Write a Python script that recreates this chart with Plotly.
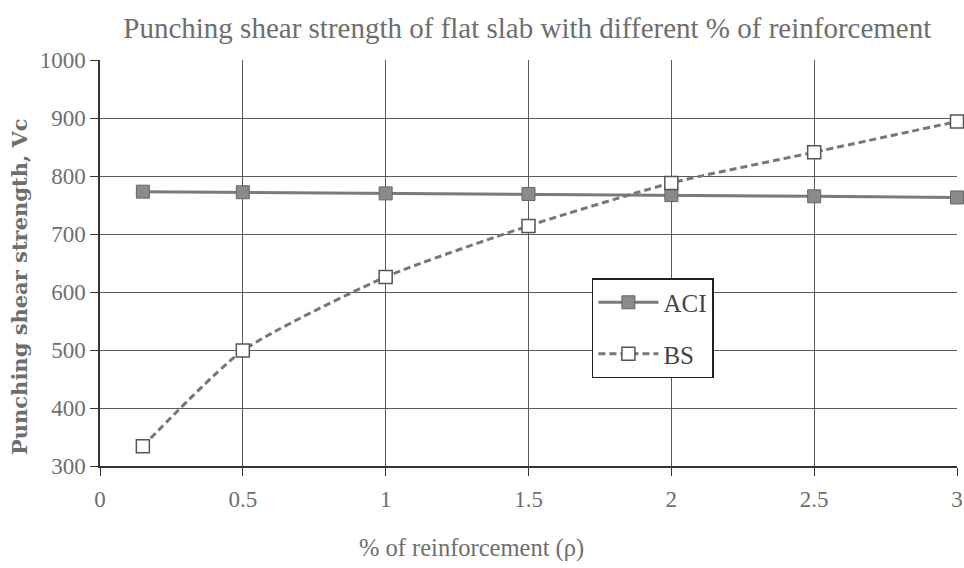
import plotly.graph_objects as go

x_vals = [0.15, 0.5, 1, 1.5, 2, 2.5, 3]
aci_vals = [773, 772, 770, 769, 767, 765, 763]
bs_vals = [334, 499, 626, 714, 788, 841, 894]
x_ticks = [0, 0.5, 1, 1.5, 2, 2.5, 3]
x_tick_labels = ["0", "0.5", "1", "1.5", "2", "2.5", "3"]
y_ticks = [300, 400, 500, 600, 700, 800, 900, 1000]

serif = "Liberation Serif, Times New Roman, serif"
txt_col = "#6e6e6e"

fig = go.Figure()
fig.add_trace(go.Scatter(
    x=x_vals, y=aci_vals, name="ACI", mode="lines+markers", legendgroup="a",
    line=dict(color="#7a7a7a", width=3),
    marker=dict(symbol="square", size=13, color="#8a8a8a",
                line=dict(color="#666666", width=1)),
    cliponaxis=False,
))
fig.add_trace(go.Scatter(
    x=x_vals, y=bs_vals, name="BS", mode="lines+markers", legendgroup="b",
    line=dict(color="#777777", width=3, dash="7px,4px", shape="spline", smoothing=0.6),
    marker=dict(symbol="square", size=13, color="white",
                line=dict(color="#555555", width=1.5)),
    cliponaxis=False,
))

fig.update_layout(
    width=964, height=568,
    margin=dict(l=100, r=7, t=60, b=102, autoexpand=False),
    paper_bgcolor="white", plot_bgcolor="white",
    title=dict(text="Punching shear strength of flat slab with different % of reinforcement",
               x=0.547, xanchor="center", y=0.951, yanchor="middle",
               font=dict(family=serif, size=29, color=txt_col)),
    font=dict(family=serif, color=txt_col),
    xaxis=dict(range=[0, 3], tickmode="array", tickvals=x_ticks, ticktext=x_tick_labels,
               showgrid=True, gridcolor="#5a5a5a", gridwidth=1, automargin=False,
               showline=True, linecolor="#333333", linewidth=1.5,
               ticks="outside", ticklen=8, tickcolor="#333333", ticklabelstandoff=4,
               tickfont=dict(family=serif, size=23, color=txt_col), zeroline=False),
    yaxis=dict(range=[300, 1000], tickmode="array", tickvals=y_ticks,
               showgrid=True, gridcolor="#5a5a5a", gridwidth=1, automargin=False,
               showline=True, linecolor="#333333", linewidth=1.5,
               ticks="outside", ticklen=8, tickcolor="#333333",
               tickfont=dict(family=serif, size=23, color=txt_col), zeroline=False),
    legend=dict(x=0.574, y=0.463, xanchor="left", yanchor="top",
                bgcolor="white", bordercolor="#222222", borderwidth=1.5,
                font=dict(family=serif, size=25, color="#444444"),
                itemwidth=60, tracegroupgap=16),
    showlegend=True,
)
fig.add_annotation(text="Punching shear strength, Vc", xref="paper", yref="paper",
                   x=-0.0933, y=0.441, xanchor="center", yanchor="middle", textangle=-90,
                   showarrow=False,
                   font=dict(family="DejaVu Serif, serif", size=21, color=txt_col,
                             weight="bold"))
fig.add_annotation(text="% of reinforcement (ρ)", xref="paper", yref="paper",
                   x=0.433, y=-0.202, xanchor="center", yanchor="middle",
                   showarrow=False, font=dict(family=serif, size=24.5, color=txt_col))

fig.write_html("out.html", config={"displayModeBar": False},
               post_script="document.body.style.margin='0';document.body.style.overflow='hidden';")
